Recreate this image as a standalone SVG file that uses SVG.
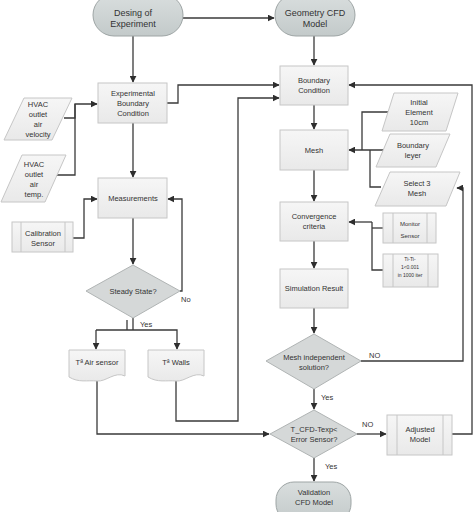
<svg xmlns="http://www.w3.org/2000/svg" width="474" height="512" viewBox="0 0 474 512">
<defs>
<linearGradient id="gT" x1="0" y1="0" x2="0" y2="1"><stop offset="0" stop-color="#d9dede"/><stop offset="1" stop-color="#c3caca"/></linearGradient>
<linearGradient id="gB" x1="0" y1="0" x2="0" y2="1"><stop offset="0" stop-color="#f6f6f6"/><stop offset="1" stop-color="#e9e9e9"/></linearGradient>
<marker id="ar" viewBox="0 0 10 10" refX="9" refY="5" markerWidth="7" markerHeight="7" markerUnits="userSpaceOnUse" orient="auto"><path d="M0,0 L10,5 L0,10 Z" fill="#2e2e2e"/></marker>
</defs>
<style>
.term{fill:url(#gT);stroke:#9ea5a5;stroke-width:1}
.box{fill:url(#gB);stroke:#c6c6c6;stroke-width:1}
.dia{fill:#d5d8d8;stroke:#b0b4b4;stroke-width:1}
.in{fill:none;stroke:#c6c6c6;stroke-width:1}
.c{fill:none;stroke:#3a3a3a;stroke-width:1.3}
.ca{fill:none;stroke:#3a3a3a;stroke-width:1.3;marker-end:url(#ar)}
text{font-family:"Liberation Sans",Arial,sans-serif;fill:#333;text-anchor:middle}
.t8{font-size:7.5px}
.t9{font-size:9px}
.t6{font-size:6px}
.t5{font-size:5px}
.lbl{font-size:7.5px;text-anchor:start}
</style>
<rect width="474" height="512" fill="#ffffff"/>
<g id="connectors">
<path class="ca" d="M183,18 H274"/>
<path class="ca" d="M133,36 V82"/>
<path class="ca" d="M314,36 V65"/>
<path class="c" d="M64,118 H75 V104"/>
<path class="ca" d="M55,175 H75 V104 H97"/>
<path class="ca" d="M133,123 V177"/>
<path class="ca" d="M73,238 H84 V199 H97"/>
<path class="ca" d="M133,218 V264"/>
<path class="ca" d="M180,291 H182 V199 H168"/>
<path class="c" d="M133,318 V330"/>
<path class="c" d="M127,320 V330"/>
<path class="ca" d="M96,330 H177 V349"/>
<path class="ca" d="M96,330 V349"/>
<path class="ca" d="M167,103 H178 V85 H279"/>
<path class="ca" d="M176,380 V421 H238 V98 H279"/>
<path class="ca" d="M97,380 V434 H269"/>
<path class="ca" d="M314,105 V129"/>
<path class="c" d="M388,112 H362 V150"/>
<path class="ca" d="M384,150 H349"/>
<path class="c" d="M381,187 H370 V150"/>
<path class="ca" d="M314,170 V201"/>
<path class="ca" d="M372,222 H349"/>
<path class="c" d="M372,222 V270 H383"/>
<path class="c" d="M372,228 H383"/>
<path class="ca" d="M314,241 V268"/>
<path class="ca" d="M314,308 V333"/>
<path class="ca" d="M361,361 H463 V188 H457"/>
<path class="ca" d="M314,389 V409"/>
<path class="ca" d="M357,434 H386"/>
<path class="ca" d="M452,434 H472 V85 H349"/>
<path class="ca" d="M314,458 V481"/>
</g>
<g id="desing-of-experiment">
<rect class="term" x="93" y="-6" width="90" height="42" rx="21"/>
<text class="t9" x="133" y="16">Desing of</text>
<text class="t9" x="133" y="27">Experiment</text>
</g>
<g id="geometry-cfd-model">
<rect class="term" x="275" y="-6" width="80" height="42" rx="21"/>
<text class="t9" x="315" y="16">Geometry CFD</text>
<text class="t9" x="315" y="27">Model</text>
</g>
<g id="experimental-boundary-condition">
<rect class="box" x="98" y="83" width="69" height="40"/>
<text class="t8" x="133" y="96">Experimental</text>
<text class="t8" x="133" y="106">Boundary</text>
<text class="t8" x="133" y="116">Condition</text>
</g>
<g id="hvac-velocity">
<path class="box" d="M24,98 H72 L52,140 H4 Z"/>
<text class="t8" x="38" y="107">HVAC</text>
<text class="t8" x="38" y="117">outlet</text>
<text class="t8" x="38" y="127">air</text>
<text class="t8" x="38" y="137">velocity</text>
</g>
<g id="hvac-temp">
<path class="box" d="M22,155 H66 L45,202 H1 Z"/>
<text class="t8" x="34" y="167">HVAC</text>
<text class="t8" x="34" y="177">outlet</text>
<text class="t8" x="34" y="187">air</text>
<text class="t8" x="34" y="197">temp.</text>
</g>
<g id="calibration-sensor">
<rect class="box" x="12" y="222" width="61" height="30"/>
<path class="in" d="M21,222 V252 M65,222 V252"/>
<text class="t8" x="43" y="236">Calibration</text>
<text class="t8" x="43" y="246">Sensor</text>
</g>
<g id="measurements">
<rect class="box" x="98" y="178" width="69" height="40"/>
<text class="t8" x="133" y="201">Measurements</text>
</g>
<g id="steady-state">
<path class="dia" d="M133,265 L180,291 L133,318 L86,291 Z"/>
<text class="t8" x="133" y="294">Steady State?</text>
</g>
<text class="lbl" x="181" y="302">No</text>
<text class="lbl" x="140" y="327">Yes</text>
<g id="t-air-sensor">
<path class="box" d="M69,350 H125 V376 C115,371 106,382 97,381 C87,380 79,383 69,377 Z"/>
<text class="t8" x="97" y="365">Tª Air sensor</text>
</g>
<g id="t-walls">
<path class="box" d="M148,350 H204 V376 C194,371 185,382 176,381 C166,380 158,383 148,377 Z"/>
<text class="t8" x="176" y="365">Tª Walls</text>
</g>
<g id="boundary-condition">
<rect class="box" x="280" y="66" width="68" height="39"/>
<text class="t8" x="314" y="83">Boundary</text>
<text class="t8" x="314" y="93">Condition</text>
</g>
<g id="initial-element">
<path class="box" d="M394,93 H458 L446,131 H382 Z"/>
<text class="t8" x="419" y="105">Initial</text>
<text class="t8" x="419" y="115">Element</text>
<text class="t8" x="419" y="125">10cm</text>
</g>
<g id="boundary-leyer">
<path class="box" d="M390,134 H450 L436,167 H376 Z"/>
<text class="t8" x="413" y="148">Boundary</text>
<text class="t8" x="413" y="158">leyer</text>
</g>
<g id="select-3-mesh">
<path class="box" d="M390,172 H460 L446,206 H375 Z"/>
<text class="t8" x="417" y="186">Select 3</text>
<text class="t8" x="417" y="196">Mesh</text>
</g>
<g id="mesh">
<rect class="box" x="280" y="130" width="68" height="40"/>
<text class="t8" x="314" y="153">Mesh</text>
</g>
<g id="convergence-criteria">
<rect class="box" x="280" y="202" width="68" height="39"/>
<text class="t8" x="314" y="219">Convergence</text>
<text class="t8" x="314" y="229">criteria</text>
</g>
<g id="monitor-sensor">
<rect class="box" x="383" y="213" width="53" height="30"/>
<path class="in" d="M393,213 V243 M427,213 V243"/>
<text class="t6" x="410" y="226">Monitor</text>
<text class="t6" x="410" y="238">Sensor</text>
</g>
<g id="ti-criterion">
<rect class="box" x="383" y="254" width="55" height="33"/>
<path class="in" d="M393,254 V287 M428,254 V287"/>
<text class="t5" x="410" y="261">Ti-Ti-</text>
<text class="t5" x="410" y="269">1&lt;0.001</text>
<text class="t5" x="410" y="277">in 1000 iter</text>
</g>
<g id="simulation-result">
<rect class="box" x="280" y="269" width="68" height="39"/>
<text class="t8" x="314" y="291">Simulation Result</text>
</g>
<g id="mesh-independent">
<path class="dia" d="M314,334 L361,361 L314,389 L266,361 Z"/>
<text class="t8" x="314" y="360">Mesh independent</text>
<text class="t8" x="314" y="370">solution?</text>
</g>
<text class="lbl" x="369" y="358">NO</text>
<text class="lbl" x="321" y="400">Yes</text>
<g id="t-cfd-error">
<path class="dia" d="M314,410 L357,434 L314,458 L270,434 Z"/>
<text class="t8" x="314" y="432">T_CFD-Texp&lt;</text>
<text class="t8" x="314" y="442">Error Sensor?</text>
</g>
<text class="lbl" x="362" y="427">NO</text>
<text class="lbl" x="325" y="469">Yes</text>
<g id="adjusted-model">
<rect class="box" x="387" y="415" width="65" height="40"/>
<path class="in" d="M397,415 V455 M443,415 V455"/>
<text class="t8" x="420" y="432">Adjusted</text>
<text class="t8" x="420" y="442">Model</text>
</g>
<g id="validation-cfd-model">
<rect class="term" x="276" y="482" width="75" height="40" rx="18"/>
<text class="t8" x="314" y="495">Validation</text>
<text class="t8" x="314" y="505">CFD Model</text>
</g>
</svg>
